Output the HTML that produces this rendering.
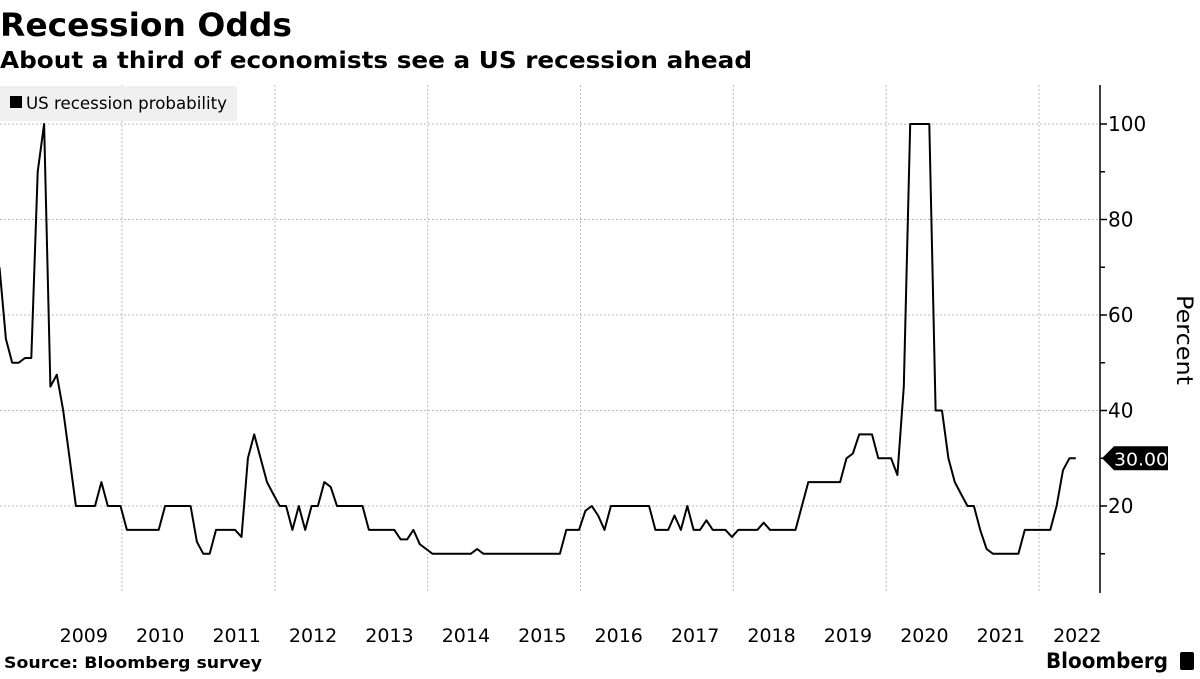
<!DOCTYPE html>
<html><head><meta charset="utf-8"><style>
body{margin:0;background:#fff;width:1200px;height:675px;overflow:hidden;font-family:"DejaVu Sans","Liberation Sans",sans-serif;}
</style></head><body>
<svg width="1200" height="675" viewBox="0 0 1200 675" xmlns="http://www.w3.org/2000/svg">
<text x="0" y="36" font-size="32" font-weight="bold" fill="#000" textLength="292" lengthAdjust="spacingAndGlyphs">Recession Odds</text>
<text x="0" y="68" font-size="23" font-weight="bold" fill="#000" textLength="752" lengthAdjust="spacingAndGlyphs">About a third of economists see a US recession ahead</text>
<g id="grid"></g>
<g id="yaxis"></g>
<g id="xaxis"></g>
<rect x="0" y="86" width="237" height="35" fill="#f0f0f0"/>
<rect x="10" y="96" width="12" height="12" fill="#000"/>
<text x="26" y="109" font-size="17" fill="#000" textLength="201" lengthAdjust="spacingAndGlyphs">US recession probability</text>
<path id="line" fill="none" stroke="#000" stroke-width="2" stroke-linejoin="round"/>
<g id="tag"></g>
<text transform="translate(1177,340) rotate(90)" text-anchor="middle" font-size="22" fill="#000" textLength="90" lengthAdjust="spacingAndGlyphs">Percent</text>
<text x="4" y="668" font-size="16" font-weight="bold" fill="#000" textLength="258" lengthAdjust="spacingAndGlyphs">Source: Bloomberg survey</text>
<text x="1046" y="668" font-size="21" font-weight="bold" fill="#000" textLength="122" lengthAdjust="spacingAndGlyphs">Bloomberg</text>
<rect x="1180" y="652" width="14" height="18" rx="2" fill="#000"/>
</svg>
<script>
const startYear = 2008;
const startMonth = 5;
const values = [70,55,50,50,51,51,90,100,45,47.5,40,30,
20,20,20,20,25,20,20,20,15,15,15,15,15,15,20,20,20,20,20,12.5,10,10,15,15,15,15,13.5,30,35,30,25,22.5,20,20,15,20,15,20,20,25,24,
20,20,20,20,20,15,15,15,15,15,13,13,15,12,11,10,10,10,10,10,10,10,11,
10,10,10,10,10,10,10,10,10,10,10,10,10,15,15,15,19,20,18,15,
20,20,20,20,20,20,20,15,15,15,18,15,20,15,15,17,15,15,15,13.5,15,15,15,15,16.5,
15,15,15,15,15,20,25,25,25,25,25,25,30,31,35,35,35,30,30,30,26.5,45,100,100,100,100,40,40,30,25,22.5,20,20,15,11,
10,10,10,10,10,15,15,15,15,15,20,27.5,30,30];
const yTicks = [20,40,60,80,100];
const yMinor = [10,30,50,70,90];
const xGridYears = [2010,2012,2014,2016,2018,2020,2022];
const xLabelYears = [2009,2010,2011,2012,2013,2014,2015,2016,2017,2018,2019,2020,2021,2022];
const lastLabel = "30.00";

const NS="http://www.w3.org/2000/svg";
const AX=1100, TOP=85, BOT=593;
function xs(t){return 122+(t-2010)*76.42;}
function ys(v){return 124+(100-v)*4.775;}
function mk(tag,attrs,parent){const e=document.createElementNS(NS,tag);for(const k in attrs)e.setAttribute(k,attrs[k]);parent.appendChild(e);return e;}
const grid=document.getElementById('grid'), ya=document.getElementById('yaxis'), xa=document.getElementById('xaxis');
yTicks.forEach(v=>{
  const l=mk('line',{x1:0,x2:AX,y1:ys(v),y2:ys(v),stroke:'#bbb','stroke-width':1,'stroke-dasharray':'2,2'},grid);
  
  
  const t=mk('line',{x1:AX,x2:AX+7,y1:ys(v),y2:ys(v),stroke:'#000','stroke-width':1.5},ya);
  
  
  const tx=mk('text',{x:AX+8,y:ys(v)+7,'font-size':20,fill:'#000'},ya);
  tx.textContent=v;
  
  
});
yMinor.forEach(v=>{
  const t=mk('line',{x1:AX,x2:AX+5,y1:ys(v),y2:ys(v),stroke:'#000','stroke-width':1.5},ya);
  
  
});
const axl=mk('line',{x1:AX,x2:AX,y1:TOP,y2:BOT,stroke:'#000','stroke-width':1.5},ya);


xGridYears.forEach(y=>{
  const l=mk('line',{x1:xs(y),x2:xs(y),y1:TOP,y2:BOT,stroke:'#bbb','stroke-width':1,'stroke-dasharray':'2,2'},grid);
  
  
});
xLabelYears.forEach(y=>{
  const t=mk('text',{x:xs(y+0.5),y:642,'font-size':19,fill:'#000','text-anchor':'middle'},xa);
  t.textContent=y;
  
  
});
let d='';
values.forEach((v,i)=>{const t=startYear+(startMonth+i)/12;d+=(i?'L':'M')+(xs(t)-1.5).toFixed(1)+','+ys(v).toFixed(1);});
document.getElementById('line').setAttribute('d',d);
const lv=values[values.length-1], ly=ys(lv), tag=document.getElementById('tag');
const p=mk('path',{d:`M${AX+2},${ly} L${AX+14},${ly-12} L${AX+68},${ly-12} L${AX+68},${ly+12} L${AX+14},${ly+12} Z`,fill:'#000'},tag);


const tt=mk('text',{x:AX+41,y:ly+7,'font-size':18,fill:'#fff','text-anchor':'middle',textLength:54,lengthAdjust:'spacingAndGlyphs'},tag);
tt.textContent=lastLabel;


</script>
</body></html>
